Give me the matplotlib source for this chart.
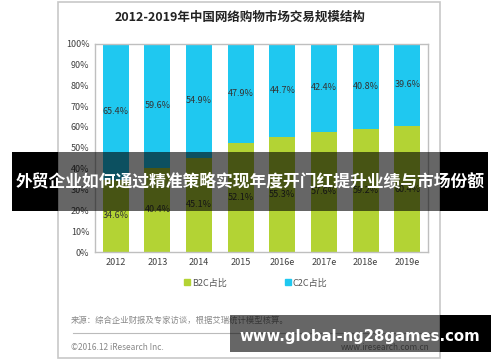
import matplotlib
matplotlib.use("Agg")
import matplotlib.pyplot as plt
from matplotlib.patches import Rectangle
import matplotlib.lines as mlines

plt.rcParams['font.family'] = ['Noto Sans CJK SC', 'DejaVu Sans']

years = ['2012', '2013', '2014', '2015', '2016e', '2017e', '2018e', '2019e']
b2c = [34.6, 40.4, 45.1, 52.1, 55.3, 57.6, 59.2, 60.4]
c2c = [65.4, 59.6, 54.9, 47.9, 44.7, 42.4, 40.8, 39.6]
yticks = [0, 10, 20, 30, 40, 50, 60, 70, 80, 90, 100]

green = '#B3D334'
blue = '#1FC8F0'
W, H = 500, 362

fig = plt.figure(figsize=(5.0, 3.62), dpi=100)
fig.patch.set_facecolor('white')

def fx(x):
    return x / W

def fy(y):
    return 1 - y / H

# outer frame
fig.patches.append(Rectangle((fx(58), fy(358)), fx(440) - fx(58), fy(2) - fy(358),
                             transform=fig.transFigure, fill=False, edgecolor='#c8c8c8', lw=1.2))

ax = fig.add_axes([fx(95), fy(252), fx(428) - fx(95), fy(43.5) - fy(252)])
x = list(range(len(years)))
ax.bar(x, b2c, width=0.625, color=green, zorder=2)
ax.bar(x, c2c, width=0.625, bottom=b2c, color=blue, zorder=2)
for i in x:
    ax.text(i, b2c[i] / 2, f'{b2c[i]}%', ha='center', va='center', fontsize=6.5, color='#333333', zorder=3)
    ax.text(i, b2c[i] + c2c[i] / 2, f'{c2c[i]}%', ha='center', va='center', fontsize=6.5, color='#333333', zorder=3)
ax.set_xlim(-0.5, 7.5)
ax.set_ylim(0, 100)
ax.set_yticks(yticks)
ax.set_yticklabels([f'{v}%' for v in yticks], fontsize=6.5, color='#404040')
ax.set_xticks(x)
ax.set_xticklabels(years, fontsize=6.5, color='#404040')
ax.tick_params(length=0, pad=4)
for s in ax.spines.values():
    s.set_color('#bfbfbf')
    s.set_linewidth(1.0)

# title
fig.text(fx(240), fy(17), '2012-2019年中国网络购物市场交易规模结构', ha='center', va='center',
         fontsize=9, fontweight='bold', color='#222222')

# legend
h1 = mlines.Line2D([], [], marker='s', color=green, linestyle='None', markersize=4, label='B2C占比')
h2 = mlines.Line2D([], [], marker='s', color=blue, linestyle='None', markersize=4, label='C2C占比')
leg = fig.legend(handles=[h1, h2], loc='center', bbox_to_anchor=(fx(255), fy(283)), ncol=2,
                 frameon=False, fontsize=6.5, columnspacing=6.2, handletextpad=0.1, handlelength=1)
for t in leg.get_texts():
    t.set_color('#555555')

# source texts
fig.text(fx(71), fy(320), '来源：综合企业财报及专家访谈，根据艾瑞统计模型核算。', ha='left', va='center',
         fontsize=6, color='#888888')
fig.lines.append(mlines.Line2D([fx(73), fx(430)], [fy(333), fy(333)], transform=fig.transFigure,
                               color='#bbbbbb', lw=0.8))
fig.text(fx(71), fy(348), '©2016.12 iResearch Inc.', ha='left', va='center', fontsize=6, color='#888888')
fig.text(fx(430), fy(348), 'www.iresearch.com.cn', ha='right', va='center', fontsize=6, color='#888888')

# overlay banners
def rect(x0, y0, x1, y1, color, alpha):
    fig.patches.append(Rectangle((fx(x0), fy(y1)), fx(x1) - fx(x0), fy(y0) - fy(y1),
                                 transform=fig.transFigure, facecolor=color, edgecolor='none',
                                 alpha=alpha, zorder=10))

rect(12, 152, 58, 211, 'black', 1.0)
rect(440, 152, 488, 211, 'black', 1.0)
rect(58, 152, 440, 211, 'black', 0.6)
fig.text(fx(250), fy(181.5), '外贸企业如何通过精准策略实现年度开门红提升业绩与市场份额', ha='center', va='center',
         fontsize=12.1, fontweight='bold', color='white', zorder=11)

rect(230, 315, 440, 352, 'black', 0.6)
rect(440, 315, 491, 352, 'black', 1.0)
fig.text(fx(360), fy(336), 'www.global-ng28games.com', ha='center', va='center',
         fontsize=10.7, fontweight='bold', color='white', zorder=11, family=['DejaVu Sans'])

fig.savefig('out.png', dpi=100)
